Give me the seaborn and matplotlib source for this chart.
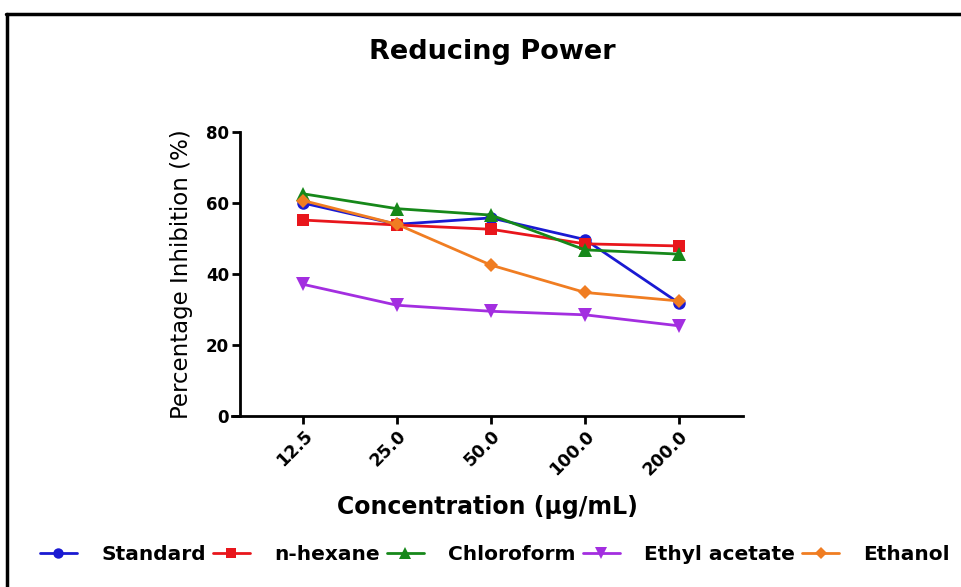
import matplotlib
matplotlib.use("Agg")
import matplotlib.pyplot as plt
from matplotlib.lines import Line2D
import numpy as np
import pandas as pd
import seaborn as sns

# Concentrations tested (shown as evenly spaced categories)
concentrations = ["12.5", "25.0", "50.0", "100.0", "200.0"]

# Percentage inhibition for each extract
standard = [60.0, 54.0, 55.8, 49.7, 31.8]
n_hexane = [55.2, 53.8, 52.6, 48.5, 47.9]
chloroform = [62.6, 58.4, 56.6, 46.8, 45.6]
ethyl_acetate = [37.1, 31.2, 29.5, 28.5, 25.4]
ethanol = [60.7, 54.0, 42.5, 34.8, 32.4]

series_names = ["Standard", "n-hexane", "Chloroform", "Ethyl acetate", "Ethanol"]
series_values = [standard, n_hexane, chloroform, ethyl_acetate, ethanol]

colors = {
    "Standard": "#1a1ad2",
    "n-hexane": "#e8161c",
    "Chloroform": "#16881a",
    "Ethyl acetate": "#a32ee0",
    "Ethanol": "#f07d22",
}
markers = {
    "Standard": "o",
    "n-hexane": "s",
    "Chloroform": "^",
    "Ethyl acetate": "v",
    "Ethanol": "D",
}
marker_sizes = {
    "Standard": 9,
    "n-hexane": 8.5,
    "Chloroform": 9.5,
    "Ethyl acetate": 9.5,
    "Ethanol": 7.5,
}

rows = []
for name, vals in zip(series_names, series_values):
    for i, (c, v) in enumerate(zip(concentrations, vals)):
        rows.append({"series": name, "pos": i, "conc": c, "value": v})
df = pd.DataFrame(rows)

sns.set_theme(style="ticks")
plt.rcParams["font.family"] = ["DejaVu Sans"]
for key in ["text.color", "axes.labelcolor", "xtick.color", "ytick.color"]:
    plt.rcParams[key] = "black"

fig = plt.figure(figsize=(9.61, 5.87), dpi=100)
ax = fig.add_axes([232 / 961, 1 - 416 / 587, (743 - 232) / 961, (416 - 132) / 587])

for name in series_names:
    sub = df[df["series"] == name]
    sns.lineplot(
        data=sub, x="pos", y="value", ax=ax,
        color=colors[name], marker=markers[name],
        markersize=marker_sizes[name], markeredgewidth=0,
        linewidth=2.0, label=name, legend=False,
    )

for side in ["left", "bottom"]:
    ax.spines[side].set_linewidth(2)
    ax.spines[side].set_color("black")
sns.despine(ax=ax)
# y axis sits slightly inside the left end of the x axis
ax.spines["left"].set_position(("data", -0.67))

ax.set_xlim(-0.755, 4.68)
ax.set_ylim(0, 80)
ax.set_xticks(range(len(concentrations)))
ax.set_xticklabels(concentrations, rotation=45, ha="right",
                   rotation_mode="anchor", fontsize=12.5, fontweight="bold")
ax.set_yticks([0, 20, 40, 60, 80])
ax.set_yticklabels(["0", "20", "40", "60", "80"], fontsize=12, fontweight="bold")
ax.tick_params(axis="both", width=2, length=6, color="black", pad=2)

ax.set_xlabel("Concentration (µg/mL)", fontsize=17, fontweight="bold", labelpad=12)
ax.set_ylabel("Percentage Inhibition (%)", fontsize=16.5, labelpad=9)
title = ax.set_title("Reducing Power", fontsize=19.5, fontweight="bold",
                     x=(492 - 232) / (743 - 232), y=(416 - 52) / 284, pad=0)
title.set_va("center")

handles = [
    Line2D([0], [0], color=colors[n], marker=markers[n],
           markersize=marker_sizes[n] - 1.5, markeredgewidth=0, linewidth=2)
    for n in series_names
]
fig.legend(handles, series_names, loc="center", bbox_to_anchor=(0.515, 0.055),
           ncol=5, frameon=False, handlelength=1.85, handletextpad=1.2,
           columnspacing=0.35, prop={"size": 14.5, "weight": "bold"})

# Frame lines along the top and left of the figure
fig.add_artist(Line2D([0.006, 1.0], [0.976, 0.976], transform=fig.transFigure,
                      color="black", linewidth=2.5))
fig.add_artist(Line2D([0.0068, 0.0068], [0.0, 0.976], transform=fig.transFigure,
                      color="black", linewidth=2.5))

fig.savefig("out.png", dpi=100, facecolor="white")
